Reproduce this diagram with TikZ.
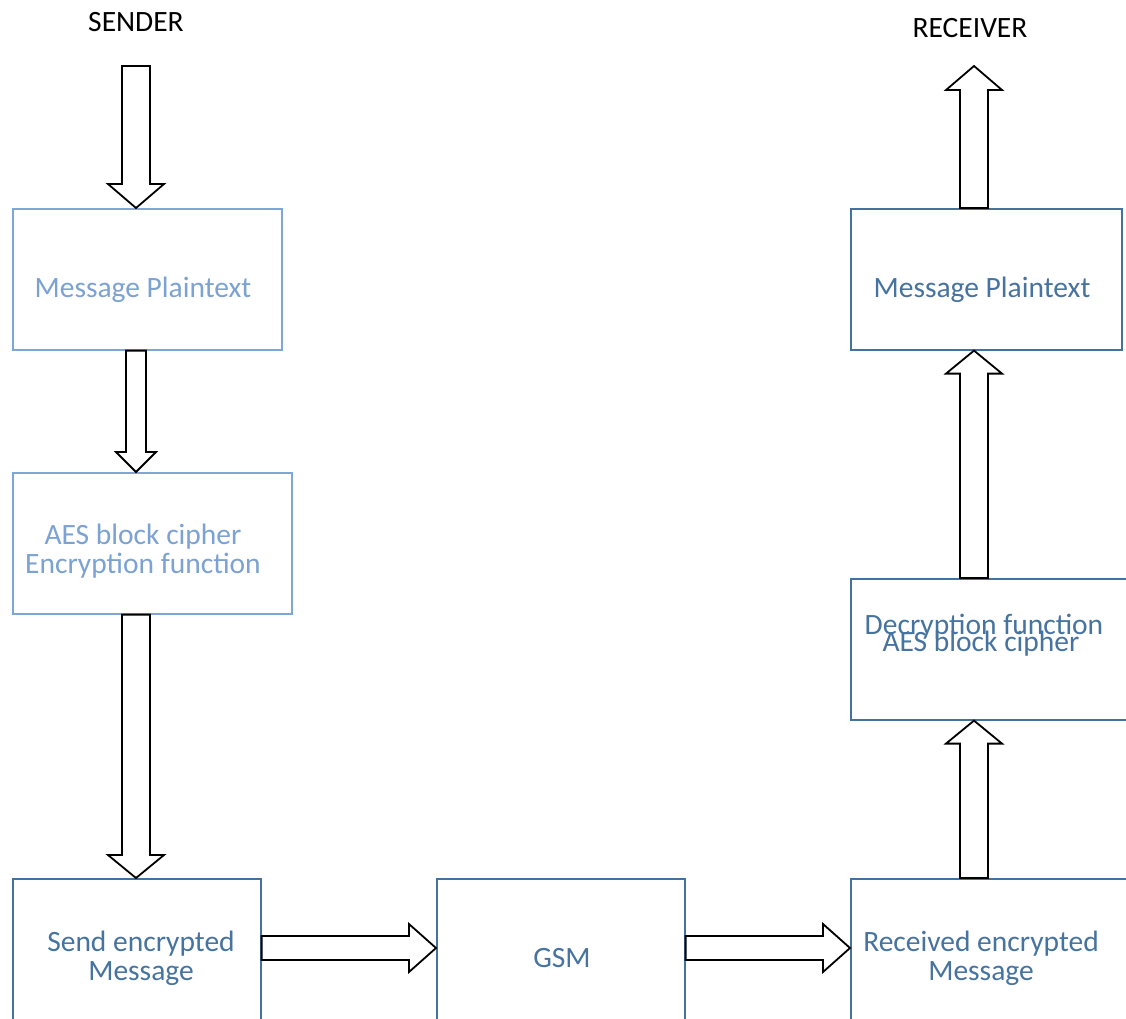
\documentclass[tikz,border=0pt]{standalone}
\usepackage{fontspec}
\setmainfont{Carlito}
\usetikzlibrary{calc}

\definecolor{paleblue}{HTML}{7EA6D8}
\definecolor{paletext}{HTML}{7BA2D2}
\definecolor{deepblue}{HTML}{44729F}
\definecolor{deeptext}{HTML}{46739F}

% outlined block arrow: shaft half-width, head half-width, head length, from, to
\newcommand\blockarrow[5]{%
  \coordinate (ba-base) at ($(#5)!#3!(#4)$);
  \draw[blockarrowline]
    ($(#4)!#1!90:(#5)$) -- ($(ba-base)!#1!90:(#5)$) -- ($(ba-base)!#2!90:(#5)$)
    -- (#5)
    -- ($(ba-base)!#2!-90:(#5)$) -- ($(ba-base)!#1!-90:(#5)$) -- ($(#4)!#1!-90:(#5)$)
    -- cycle;
}

\begin{document}
\begin{tikzpicture}[x=1pt,y=-1pt,
  box/.style={draw, line width=1.6pt, inner sep=0pt, anchor=north west},
  palebox/.style={box, draw=paleblue},
  deepbox/.style={box, draw=deepblue},
  lbl/.style={font=\fontsize{29.5}{29}\selectfont, align=center, anchor=base, inner sep=0pt},
  palelbl/.style={lbl, text=paletext},
  deeplbl/.style={lbl, text=deeptext},
  blockarrowline/.style={draw=black, fill=white, line width=1.8pt, line join=miter},
]
\clip (0,0) rectangle (1126,1018);
\fill[white] (0,0) rectangle (1126,1018);

% boxes
\node[palebox, minimum width=269pt, minimum height=141pt] (mpL) at (12,208) {};
\node[palebox, minimum width=279pt, minimum height=141pt] (aesL) at (12,472) {};
\node[deepbox, minimum width=248pt, minimum height=170pt] (send) at (12,878) {};
\node[deepbox, minimum width=248pt, minimum height=170pt] (gsm) at (436,878) {};
\node[deepbox, minimum width=300pt, minimum height=170pt] (recv) at (850,878) {};
\node[deepbox, minimum width=300pt, minimum height=141pt] (dec) at (850,578) {};
\node[deepbox, minimum width=271pt, minimum height=141pt] (mpR) at (850,208) {};

% labels (two-line labels are placed by the baseline of their last line)
\node[lbl] (sender) at (136,31) {SENDER};
\node[lbl] (receiver) at (970,37) {RECEIVER};
\node[palelbl] (mpL-t) at (143,297) {Message Plaintext};
\node[palelbl] (aesL-t) at (143,573) {AES block cipher\\Encryption function};
\node[deeplbl] (send-t) at (141,980) {Send encrypted\\Message};
\node[deeplbl] (gsm-t) at (562,967) {GSM};
\node[deeplbl] (recv-t) at (981,980) {Received encrypted\\Message};
\node[deeplbl] (dec-t1) at (984,634) {Decryption function};
\node[deeplbl] (dec-t2) at (981,651) {AES block cipher};
\node[deeplbl] (mpR-t) at (982,297) {Message Plaintext};

% arrow end points
\coordinate (sndtop) at (136,66);
\coordinate (rcvtop) at (974,66);
\coordinate (link) at (0,948);

% sender side
\blockarrow{14pt}{28pt}{24pt}{sndtop}{mpL.north -| sndtop}
\blockarrow{10pt}{20pt}{20pt}{mpL.south -| sndtop}{aesL.north -| sndtop}
\blockarrow{14pt}{28pt}{23pt}{aesL.south -| sndtop}{send.north -| sndtop}

% transmission
\blockarrow{12pt}{24pt}{27pt}{send.east |- link}{gsm.west |- link}
\blockarrow{12pt}{24pt}{27pt}{gsm.east |- link}{recv.west |- link}

% receiver side
\blockarrow{14pt}{28pt}{23pt}{recv.north -| rcvtop}{dec.south -| rcvtop}
\blockarrow{14pt}{28pt}{23pt}{dec.north -| rcvtop}{mpR.south -| rcvtop}
\blockarrow{14pt}{28pt}{24pt}{mpR.north -| rcvtop}{rcvtop}
\end{tikzpicture}
\end{document}
